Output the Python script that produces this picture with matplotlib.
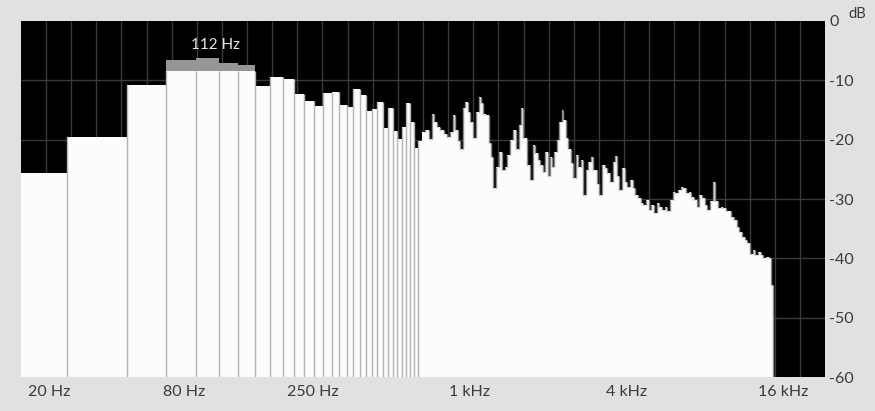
import numpy as np
import matplotlib.pyplot as plt
from matplotlib.ticker import NullLocator
from matplotlib.transforms import ScaledTranslation

plt.rcParams['font.family'] = ['Lato', 'DejaVu Sans']

# ---- low frequency FFT bins (drawn as separate bars) ----
bin_edges = [18.8, 28.3, 48.1, 68.0, 88.6, 108.6, 128.6, 149.5, 169.9, 190.6,
             211.1, 231.3, 252.7, 273.6, 294.8, 315.3, 336.6, 356.9, 378.6,
             399.3, 420.0, 441.5, 463.0, 484.0, 505.9, 527.0, 547.9, 569.2,
             591.4, 612.8, 634.9, 656.0]
bin_level = [-25.7, -19.5, -10.8, -8.4, -8.4, -8.4, -8.4, -11.0, -9.4, -9.8,
             -12.3, -13.4, -14.3, -12.2, -11.9, -14.2, -14.5, -11.4, -12.5,
             -15.1, -14.8, -13.6, -18.0, -14.7, -18.5, -19.9, -17.8, -13.8,
             -17.1, -21.4, -20.2]
# peak hold (grey caps)
bin_peak = [-25.7, -19.5, -10.8, -6.6, -6.3, -7.1, -7.5, -11.0, -9.4, -9.8,
            -12.3, -13.4, -14.3, -12.2, -11.9, -14.2, -14.5, -11.4, -12.5,
            -15.1, -14.8, -13.6, -18.0, -14.7, -18.5, -19.9, -17.8, -13.8,
            -17.1, -21.4, -20.2]

# ---- dense part of the spectrum (step envelope) ----
hf_freq = [656, 673, 700, 718, 731, 747, 769, 799, 820, 840, 861, 878, 900,
           918, 940, 960, 983, 1003, 1033, 1058, 1084, 1103, 1129, 1156, 1184,
           1205, 1233, 1263, 1293, 1328, 1368, 1396, 1430, 1472, 1508, 1544,
           1572, 1600, 1667, 1707, 1748, 1784, 1827, 1865, 1910, 1954, 1996,
           2038, 2080, 2117, 2162, 2213, 2260, 2292, 2342, 2396, 2455, 2505,
           2565, 2618, 2681, 2737, 2795, 2861, 2922, 2990, 3082, 3154, 3229,
           3307, 3384, 3466, 3550, 3614, 3678, 3763, 3855, 3948, 4040, 4138,
           4238, 4337, 4442, 4549, 4655, 4768, 4883, 4997, 5118, 5242, 5364,
           5495, 5627, 5758, 5897, 6039, 6180, 6330, 6483, 6634, 6795, 6959,
           7121, 7293, 7470, 7644, 7829, 8019, 8205, 8404, 8607, 8808, 9020,
           9239, 9454, 9683, 9917, 10148, 10394, 10646, 10894, 11158, 11425,
           11692, 11975, 12265, 12551, 12855, 13166, 13472, 13798, 14131,
           14459, 14718]
hf_level = [-18.7, -18.4, -19.9, -15.6, -17.1, -17.8, -18.3, -19.0, -19.5,
            -18.7, -15.8, -18.4, -20.3, -21.5, -14.7, -13.6, -15.3, -17.0,
            -19.8, -15.3, -12.8, -13.9, -15.6, -15.8, -20.6, -22.9, -28.2,
            -24.6, -22.0, -25.1, -24.6, -22.6, -20.1, -18.4, -21.5, -17.5,
            -14.7, -19.8, -24.3, -26.8, -20.9, -22.3, -23.4, -24.3, -25.4,
            -22.0, -26.2, -22.9, -24.6, -22.0, -20.1, -17.0, -15.0, -16.7,
            -19.8, -21.5, -24.0, -26.5, -22.6, -24.6, -23.4, -29.3, -25.1,
            -23.7, -22.9, -25.1, -27.4, -29.3, -24.3, -24.8, -25.7, -27.1,
            -23.7, -22.8, -26.2, -28.5, -24.8, -27.1, -27.9, -26.8, -28.2,
            -29.3, -29.9, -30.7, -31.0, -30.2, -31.9, -31.0, -32.4, -30.7,
            -31.3, -31.9, -31.3, -32.1, -30.2, -28.8, -29.0, -28.5, -27.9,
            -28.2, -29.0, -28.8, -29.6, -30.2, -31.3, -29.3, -29.9, -31.0,
            -31.9, -30.4, -27.1, -30.4, -31.6, -31.3, -31.6, -32.1, -32.1,
            -33.0, -33.5, -34.7, -35.5, -36.4, -36.9, -37.5, -39.2, -38.6,
            -39.4, -38.9, -39.4, -40.0, -39.7, -40.0, -44.5, -60.0]

x_ticks = [20, 80, 250, 1000, 4000, 16000]
x_labels = ['20 Hz', '80 Hz', '250 Hz', '1 kHz', '4 kHz', '16 kHz']
y_ticks = [0, -10, -20, -30, -40, -50, -60]
y_labels = ['0', '-10', '-20', '-30', '-40', '-50', '-60']

fmin, fmax = 18.8, 23270
txt = '#3a3a3a'

fig = plt.figure(figsize=(8.75, 4.11), dpi=100, facecolor='#e1e1e1')
ax = fig.add_axes([21/875, 34/411, 804/875, 356/411])
ax.set_facecolor('black')
ax.set_xscale('log')
ax.set_xlim(fmin, fmax)
ax.set_ylim(-60, 0)

# grid: 32 equal divisions on the log axis, 10 dB rows
gx = np.geomspace(fmin, fmax, 33)[1:-1]
ax.vlines(gx, -60, 0, color='#3a3a3a', lw=1, zorder=1)
ax.hlines(y_ticks[1:-1], fmin, fmax, color='#3a3a3a', lw=1, zorder=1)

edges = np.array(bin_edges)
widths = np.diff(edges)
lev = np.array(bin_level)
ax.bar(edges[:-1], np.array(bin_peak) + 60, widths, bottom=-60, align='edge',
       color='#969696', lw=0, zorder=2)
ax.bar(edges[:-1], lev + 60, widths, bottom=-60, align='edge',
       color='#fcfcfc', lw=0, zorder=3)
ax.vlines(edges[1:-1], -60, np.maximum(lev[:-1], lev[1:]), color='#b4b4b4',
          lw=1, zorder=4)

ax.fill_between(hf_freq, -60, hf_level, step='post', color='#fcfcfc', lw=0,
                zorder=3)
# soft grey fringe on the jagged edges
hf = np.array(hf_level)
ax.vlines(hf_freq[1:], np.minimum(hf[:-1], hf[1:]), np.maximum(hf[:-1], hf[1:]),
          color='#8a8a8a', lw=1, zorder=4)

ax.text(105, -4.0, '112 Hz', color='#e6e6e6', ha='center', va='center',
        fontsize=11, zorder=5)

ax.set_xticks(x_ticks)
ax.set_xticklabels(x_labels)
ax.xaxis.set_minor_locator(NullLocator())
first = ax.get_xticklabels()[0]
first.set_ha('left')
first.set_transform(first.get_transform() + ScaledTranslation(-0.05, 0, fig.dpi_scale_trans))
ax.tick_params(axis='x', length=0, pad=6, labelsize=11.5, colors=txt)

ax.yaxis.tick_right()
ax.set_yticks(y_ticks)
ax.set_yticklabels(y_labels)
ax.tick_params(axis='y', length=0, pad=3, labelsize=11.5, colors=txt)
fig.text(848/875, 1 - 14/411, 'dB', color=txt, fontsize=10.5, va='center')

for s in ax.spines.values():
    s.set_visible(False)

plt.savefig('out.png', dpi=100, facecolor=fig.get_facecolor())
